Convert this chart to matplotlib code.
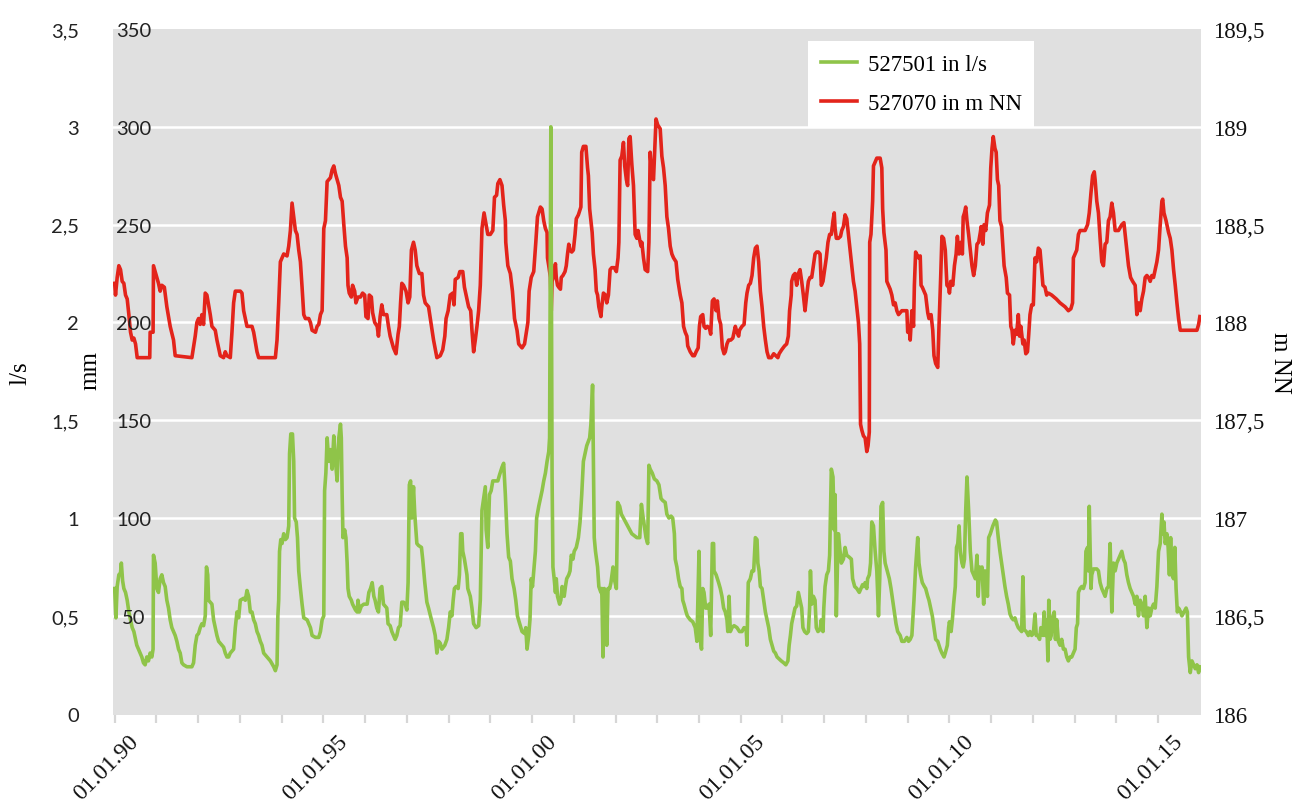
import matplotlib.pyplot as plt
from matplotlib.transforms import ScaledTranslation

# Pegel 527070 (m NN), Zeit in Dezimaljahren
red_pts = [
    (1990.00, 188.20), (1990.02, 188.14), (1990.06, 188.23), (1990.10, 188.29), (1990.14, 188.27),
    (1990.18, 188.21), (1990.22, 188.20), (1990.26, 188.14), (1990.30, 188.12), (1990.34, 188.04),
    (1990.38, 187.95), (1990.42, 187.91), (1990.46, 187.92), (1990.50, 187.89), (1990.54, 187.82),
    (1990.84, 187.82), (1990.85, 187.95), (1990.92, 187.95), (1990.93, 188.29), (1991.01, 188.23),
    (1991.05, 188.20), (1991.09, 188.16), (1991.13, 188.19), (1991.19, 188.18), (1991.25, 188.08),
    (1991.33, 187.98), (1991.41, 187.91), (1991.45, 187.83), (1991.85, 187.82), (1991.93, 187.93),
    (1991.97, 188.00), (1992.01, 188.02), (1992.05, 187.99), (1992.09, 188.04), (1992.13, 187.99),
    (1992.17, 188.15), (1992.21, 188.14), (1992.29, 188.04), (1992.33, 187.98), (1992.41, 187.96),
    (1992.45, 187.91), (1992.53, 187.83), (1992.61, 187.82), (1992.65, 187.85), (1992.69, 187.83),
    (1992.77, 187.82), (1992.81, 187.95), (1992.85, 188.10), (1992.89, 188.16), (1992.97, 188.16),
    (1993.01, 188.16), (1993.05, 188.15), (1993.09, 188.06), (1993.17, 187.98), (1993.29, 187.98),
    (1993.33, 187.95), (1993.41, 187.85), (1993.45, 187.82), (1993.85, 187.82), (1993.89, 187.91),
    (1993.93, 188.10), (1993.97, 188.31), (1994.05, 188.35), (1994.13, 188.34), (1994.17, 188.39),
    (1994.21, 188.47), (1994.25, 188.61), (1994.29, 188.54), (1994.33, 188.47), (1994.37, 188.45),
    (1994.41, 188.37), (1994.45, 188.31), (1994.49, 188.18), (1994.53, 188.04), (1994.57, 188.02),
    (1994.65, 188.02), (1994.69, 188.00), (1994.73, 187.96), (1994.81, 187.95), (1994.85, 187.98),
    (1994.89, 187.99), (1994.93, 188.04), (1994.97, 188.06), (1995.01, 188.48), (1995.05, 188.52),
    (1995.09, 188.72), (1995.13, 188.73), (1995.17, 188.74), (1995.21, 188.78), (1995.25, 188.80),
    (1995.29, 188.76), (1995.33, 188.73), (1995.37, 188.70), (1995.41, 188.64), (1995.45, 188.62),
    (1995.49, 188.50), (1995.53, 188.39), (1995.57, 188.33), (1995.59, 188.19), (1995.62, 188.15),
    (1995.67, 188.13), (1995.70, 188.19), (1995.75, 188.16), (1995.78, 188.10), (1995.83, 188.13),
    (1995.89, 188.13), (1995.94, 188.15), (1995.99, 188.14), (1996.02, 188.03), (1996.07, 188.02),
    (1996.10, 188.14), (1996.15, 188.13), (1996.18, 188.05), (1996.23, 188.00), (1996.29, 187.98),
    (1996.32, 187.93), (1996.36, 188.03), (1996.40, 188.09), (1996.44, 188.04), (1996.52, 188.04),
    (1996.56, 187.98), (1996.60, 187.93), (1996.68, 187.87), (1996.74, 187.84), (1996.79, 187.94),
    (1996.82, 187.98), (1996.85, 188.10), (1996.88, 188.20), (1996.92, 188.19), (1996.98, 188.16),
    (1997.03, 188.10), (1997.07, 188.13), (1997.11, 188.37), (1997.16, 188.41), (1997.20, 188.37),
    (1997.24, 188.29), (1997.30, 188.25), (1997.36, 188.25), (1997.40, 188.14), (1997.44, 188.10),
    (1997.52, 188.08), (1997.59, 187.98), (1997.64, 187.91), (1997.72, 187.82), (1997.80, 187.83),
    (1997.86, 187.86), (1997.91, 187.93), (1997.94, 188.02), (1997.99, 188.06), (1998.04, 188.14),
    (1998.10, 188.15), (1998.13, 188.09), (1998.16, 188.22), (1998.23, 188.23), (1998.27, 188.26),
    (1998.34, 188.26), (1998.38, 188.18), (1998.43, 188.13), (1998.48, 188.08), (1998.53, 188.06),
    (1998.56, 187.96), (1998.60, 187.85), (1998.64, 187.91), (1998.68, 187.98), (1998.72, 188.06),
    (1998.76, 188.19), (1998.80, 188.48), (1998.85, 188.56), (1998.90, 188.50), (1998.94, 188.45),
    (1999.00, 188.45), (1999.06, 188.47), (1999.10, 188.64), (1999.15, 188.65), (1999.18, 188.71),
    (1999.23, 188.73), (1999.28, 188.70), (1999.32, 188.60), (1999.36, 188.52), (1999.37, 188.41),
    (1999.42, 188.29), (1999.48, 188.25), (1999.53, 188.16), (1999.58, 188.02), (1999.64, 187.96),
    (1999.68, 187.89), (1999.76, 187.87), (1999.82, 187.89), (1999.85, 187.93), (1999.90, 188.00),
    (1999.93, 188.16), (1999.98, 188.23), (2000.04, 188.26), (2000.09, 188.41), (2000.13, 188.54),
    (2000.20, 188.59), (2000.24, 188.58), (2000.28, 188.52), (2000.32, 188.48), (2000.36, 188.46),
    (2000.37, 188.33), (2000.40, 188.29), (2000.44, 188.23), (2000.46, 188.06), (2000.48, 188.21),
    (2000.52, 188.24), (2000.56, 188.30), (2000.58, 188.23), (2000.61, 188.19), (2000.64, 188.18),
    (2000.68, 188.17), (2000.70, 188.23), (2000.74, 188.24), (2000.79, 188.26), (2000.82, 188.29),
    (2000.85, 188.35), (2000.88, 188.40), (2000.91, 188.37), (2000.95, 188.36), (2000.99, 188.37),
    (2001.03, 188.45), (2001.06, 188.53), (2001.11, 188.55), (2001.17, 188.59), (2001.19, 188.87),
    (2001.23, 188.90), (2001.29, 188.90), (2001.33, 188.79), (2001.35, 188.75), (2001.38, 188.58),
    (2001.41, 188.52), (2001.44, 188.46), (2001.47, 188.35), (2001.51, 188.27), (2001.54, 188.16),
    (2001.57, 188.14), (2001.60, 188.08), (2001.65, 188.03), (2001.67, 188.08), (2001.71, 188.15),
    (2001.76, 188.14), (2001.79, 188.10), (2001.83, 188.14), (2001.87, 188.27), (2001.91, 188.28),
    (2001.97, 188.28), (2002.02, 188.26), (2002.06, 188.33), (2002.08, 188.41), (2002.11, 188.83),
    (2002.15, 188.85), (2002.19, 188.92), (2002.22, 188.80), (2002.26, 188.73), (2002.29, 188.70),
    (2002.32, 188.94), (2002.35, 188.95), (2002.39, 188.81), (2002.43, 188.70), (2002.47, 188.45),
    (2002.51, 188.43), (2002.54, 188.47), (2002.58, 188.42), (2002.61, 188.39), (2002.63, 188.41),
    (2002.67, 188.33), (2002.71, 188.27), (2002.77, 188.26), (2002.80, 188.41), (2002.83, 188.87),
    (2002.87, 188.75), (2002.91, 188.73), (2002.94, 188.89), (2002.97, 189.04), (2003.01, 189.01),
    (2003.04, 189.00), (2003.07, 188.99), (2003.11, 188.85), (2003.15, 188.79), (2003.19, 188.70),
    (2003.23, 188.54), (2003.27, 188.48), (2003.31, 188.39), (2003.35, 188.35), (2003.39, 188.33),
    (2003.45, 188.31), (2003.49, 188.22), (2003.52, 188.18), (2003.55, 188.14), (2003.59, 188.10),
    (2003.63, 187.98), (2003.67, 187.95), (2003.71, 187.93), (2003.73, 187.88), (2003.79, 187.85),
    (2003.85, 187.83), (2003.89, 187.83), (2003.93, 187.85), (2003.98, 187.87), (2004.01, 187.98),
    (2004.04, 188.03), (2004.09, 188.04), (2004.12, 187.98), (2004.16, 187.97), (2004.20, 187.98),
    (2004.25, 187.97), (2004.28, 187.94), (2004.32, 188.11), (2004.36, 188.12), (2004.41, 188.06),
    (2004.44, 188.11), (2004.48, 188.02), (2004.52, 187.99), (2004.56, 187.87), (2004.60, 187.84),
    (2004.63, 187.85), (2004.67, 187.89), (2004.71, 187.91), (2004.76, 187.91), (2004.81, 187.92),
    (2004.87, 187.98), (2004.91, 187.95), (2004.95, 187.93), (2004.97, 187.96), (2005.03, 187.98),
    (2005.08, 187.99), (2005.12, 188.10), (2005.15, 188.15), (2005.19, 188.19), (2005.23, 188.20),
    (2005.27, 188.24), (2005.31, 188.33), (2005.35, 188.38), (2005.39, 188.39), (2005.43, 188.31),
    (2005.47, 188.16), (2005.51, 188.08), (2005.55, 187.98), (2005.59, 187.91), (2005.63, 187.85),
    (2005.67, 187.82), (2005.73, 187.82), (2005.79, 187.84), (2005.84, 187.83), (2005.89, 187.82),
    (2005.92, 187.84), (2005.98, 187.86), (2006.05, 187.88), (2006.10, 187.89), (2006.14, 187.93),
    (2006.17, 188.06), (2006.21, 188.14), (2006.22, 188.21), (2006.26, 188.24), (2006.30, 188.25),
    (2006.34, 188.19), (2006.38, 188.25), (2006.42, 188.27), (2006.46, 188.21), (2006.50, 188.14),
    (2006.54, 188.06), (2006.58, 188.14), (2006.62, 188.21), (2006.66, 188.23), (2006.70, 188.23),
    (2006.74, 188.29), (2006.78, 188.35), (2006.82, 188.36), (2006.86, 188.36), (2006.90, 188.35),
    (2006.93, 188.19), (2006.97, 188.21), (2007.01, 188.27), (2007.05, 188.33), (2007.09, 188.41),
    (2007.13, 188.45), (2007.17, 188.45), (2007.21, 188.52), (2007.24, 188.56), (2007.26, 188.48),
    (2007.29, 188.43), (2007.34, 188.43), (2007.39, 188.44), (2007.42, 188.47), (2007.46, 188.49),
    (2007.50, 188.55), (2007.54, 188.53), (2007.58, 188.45), (2007.62, 188.37), (2007.66, 188.29),
    (2007.70, 188.21), (2007.74, 188.16), (2007.78, 188.08), (2007.82, 188.00), (2007.85, 187.89),
    (2007.87, 187.48), (2007.90, 187.45), (2007.94, 187.42), (2007.98, 187.41), (2008.02, 187.34),
    (2008.05, 187.37), (2008.08, 187.44), (2008.09, 188.41), (2008.12, 188.45), (2008.16, 188.62),
    (2008.18, 188.80), (2008.22, 188.82), (2008.26, 188.84), (2008.34, 188.84), (2008.38, 188.79),
    (2008.40, 188.58), (2008.43, 188.46), (2008.48, 188.37), (2008.50, 188.21), (2008.54, 188.19),
    (2008.58, 188.17), (2008.62, 188.14), (2008.66, 188.09), (2008.70, 188.10), (2008.74, 188.06),
    (2008.78, 188.04), (2008.86, 188.06), (2008.98, 188.06), (2009.00, 187.95), (2009.03, 187.98),
    (2009.06, 187.91), (2009.10, 188.06), (2009.14, 187.98), (2009.16, 188.19), (2009.19, 188.36),
    (2009.26, 188.33), (2009.30, 188.34), (2009.32, 188.19), (2009.35, 188.18), (2009.39, 188.16),
    (2009.43, 188.14), (2009.48, 188.05), (2009.51, 188.02), (2009.56, 188.04), (2009.60, 187.96),
    (2009.63, 187.83), (2009.67, 187.79), (2009.72, 187.77), (2009.75, 187.98), (2009.79, 188.23),
    (2009.82, 188.44), (2009.86, 188.43), (2009.90, 188.37), (2009.94, 188.19), (2009.98, 188.18),
    (2010.00, 188.15), (2010.03, 188.21), (2010.08, 188.19), (2010.12, 188.29), (2010.16, 188.35),
    (2010.19, 188.44), (2010.23, 188.35), (2010.28, 188.41), (2010.31, 188.35), (2010.33, 188.54),
    (2010.36, 188.56), (2010.39, 188.59), (2010.42, 188.52), (2010.46, 188.45), (2010.50, 188.37),
    (2010.54, 188.29), (2010.58, 188.24), (2010.62, 188.29), (2010.66, 188.40), (2010.70, 188.41),
    (2010.74, 188.46), (2010.76, 188.49), (2010.80, 188.40), (2010.83, 188.50), (2010.87, 188.47),
    (2010.91, 188.56), (2010.96, 188.60), (2010.99, 188.79), (2011.02, 188.89), (2011.05, 188.95),
    (2011.09, 188.89), (2011.12, 188.87), (2011.15, 188.73), (2011.18, 188.70), (2011.21, 188.52),
    (2011.25, 188.49), (2011.28, 188.39), (2011.31, 188.29), (2011.36, 188.23), (2011.39, 188.15),
    (2011.44, 188.14), (2011.47, 187.98), (2011.50, 187.96), (2011.53, 187.89), (2011.57, 187.96),
    (2011.61, 187.94), (2011.65, 188.04), (2011.68, 187.93), (2011.71, 187.98), (2011.76, 187.89),
    (2011.79, 187.91), (2011.83, 187.84), (2011.87, 187.85), (2011.90, 187.94), (2011.93, 188.04),
    (2011.97, 188.09), (2012.01, 188.09), (2012.05, 188.33), (2012.09, 188.31), (2012.13, 188.38),
    (2012.17, 188.37), (2012.20, 188.29), (2012.24, 188.19), (2012.29, 188.18), (2012.33, 188.14),
    (2012.37, 188.15), (2012.45, 188.14), (2012.56, 188.12), (2012.65, 188.10), (2012.77, 188.08),
    (2012.85, 188.06), (2012.91, 188.07), (2012.95, 188.10), (2012.97, 188.33), (2013.01, 188.35),
    (2013.05, 188.37), (2013.09, 188.45), (2013.13, 188.47), (2013.25, 188.47), (2013.31, 188.50),
    (2013.35, 188.56), (2013.39, 188.66), (2013.43, 188.75), (2013.47, 188.77), (2013.49, 188.73),
    (2013.53, 188.62), (2013.57, 188.56), (2013.61, 188.43), (2013.65, 188.31), (2013.69, 188.29),
    (2013.73, 188.40), (2013.77, 188.41), (2013.81, 188.52), (2013.85, 188.54), (2013.89, 188.61),
    (2013.93, 188.56), (2013.97, 188.47), (2014.05, 188.47), (2014.13, 188.50), (2014.18, 188.51),
    (2014.21, 188.45), (2014.25, 188.37), (2014.29, 188.29), (2014.34, 188.23), (2014.39, 188.21),
    (2014.45, 188.19), (2014.49, 188.04), (2014.53, 188.10), (2014.57, 188.06), (2014.61, 188.12),
    (2014.65, 188.16), (2014.69, 188.23), (2014.73, 188.24), (2014.77, 188.23), (2014.81, 188.21),
    (2014.85, 188.24), (2014.89, 188.23), (2014.93, 188.27), (2014.97, 188.31), (2015.01, 188.37),
    (2015.05, 188.50), (2015.09, 188.62), (2015.11, 188.63), (2015.14, 188.56), (2015.19, 188.52),
    (2015.25, 188.46), (2015.29, 188.43), (2015.33, 188.37), (2015.37, 188.27), (2015.41, 188.19),
    (2015.45, 188.10), (2015.49, 188.02), (2015.53, 187.96), (2015.93, 187.96), (2015.97, 187.99),
    (2016.00, 188.03),
]

# Quelle 527501 (l/s)
green_pts = [
    (1990.00, 0.64), (1990.02, 0.54), (1990.03, 0.49), (1990.06, 0.65), (1990.10, 0.71),
    (1990.14, 0.72), (1990.16, 0.77), (1990.19, 0.68), (1990.22, 0.64), (1990.26, 0.62),
    (1990.30, 0.58), (1990.34, 0.52), (1990.38, 0.48), (1990.42, 0.44), (1990.46, 0.42),
    (1990.50, 0.38), (1990.53, 0.35), (1990.57, 0.33), (1990.61, 0.31), (1990.65, 0.29),
    (1990.69, 0.26), (1990.73, 0.25), (1990.77, 0.29), (1990.81, 0.27), (1990.85, 0.31),
    (1990.89, 0.29), (1990.92, 0.33), (1990.93, 0.81), (1990.97, 0.77), (1991.01, 0.64),
    (1991.05, 0.62), (1991.09, 0.69), (1991.13, 0.71), (1991.17, 0.67), (1991.21, 0.65),
    (1991.25, 0.58), (1991.29, 0.54), (1991.33, 0.48), (1991.37, 0.44), (1991.41, 0.42),
    (1991.45, 0.40), (1991.49, 0.37), (1991.53, 0.33), (1991.57, 0.31), (1991.61, 0.26),
    (1991.65, 0.25), (1991.73, 0.24), (1991.85, 0.24), (1991.89, 0.26), (1991.93, 0.35),
    (1991.97, 0.40), (1992.01, 0.41), (1992.05, 0.44), (1992.09, 0.46), (1992.13, 0.45),
    (1992.17, 0.50), (1992.20, 0.75), (1992.23, 0.71), (1992.25, 0.58), (1992.29, 0.57),
    (1992.33, 0.56), (1992.37, 0.48), (1992.41, 0.44), (1992.45, 0.40), (1992.49, 0.37),
    (1992.53, 0.36), (1992.61, 0.34), (1992.65, 0.31), (1992.69, 0.29), (1992.73, 0.29),
    (1992.77, 0.31), (1992.85, 0.33), (1992.89, 0.44), (1992.93, 0.52), (1992.97, 0.49),
    (1993.01, 0.58), (1993.09, 0.59), (1993.13, 0.58), (1993.17, 0.63), (1993.21, 0.60),
    (1993.25, 0.52), (1993.29, 0.52), (1993.33, 0.48), (1993.37, 0.46), (1993.41, 0.42),
    (1993.45, 0.40), (1993.49, 0.37), (1993.53, 0.35), (1993.57, 0.31), (1993.65, 0.29),
    (1993.73, 0.27), (1993.81, 0.24), (1993.85, 0.22), (1993.89, 0.25), (1993.91, 0.50),
    (1993.93, 0.58), (1993.95, 0.83), (1993.98, 0.89), (1994.01, 0.87), (1994.05, 0.92),
    (1994.09, 0.89), (1994.13, 0.90), (1994.17, 0.96), (1994.19, 1.33), (1994.22, 1.43),
    (1994.26, 1.43), (1994.29, 1.29), (1994.31, 1.00), (1994.35, 0.98), (1994.38, 0.90),
    (1994.41, 0.73), (1994.45, 0.64), (1994.49, 0.56), (1994.53, 0.49), (1994.61, 0.48),
    (1994.69, 0.44), (1994.73, 0.40), (1994.81, 0.39), (1994.89, 0.39), (1994.93, 0.42),
    (1994.97, 0.48), (1995.01, 0.50), (1995.03, 1.14), (1995.06, 1.23), (1995.09, 1.41),
    (1995.13, 1.29), (1995.17, 1.35), (1995.21, 1.25), (1995.25, 1.42), (1995.29, 1.29),
    (1995.33, 1.19), (1995.37, 1.41), (1995.41, 1.48), (1995.43, 1.41), (1995.45, 1.12),
    (1995.47, 0.90), (1995.51, 0.94), (1995.54, 0.90), (1995.57, 0.77), (1995.59, 0.64),
    (1995.62, 0.60), (1995.67, 0.58), (1995.70, 0.56), (1995.77, 0.53), (1995.81, 0.52),
    (1995.83, 0.58), (1995.86, 0.52), (1995.91, 0.55), (1995.97, 0.56), (1996.05, 0.56),
    (1996.09, 0.62), (1996.13, 0.64), (1996.17, 0.67), (1996.21, 0.60), (1996.24, 0.58),
    (1996.28, 0.54), (1996.32, 0.52), (1996.36, 0.64), (1996.40, 0.65), (1996.44, 0.56),
    (1996.48, 0.55), (1996.52, 0.54), (1996.55, 0.46), (1996.60, 0.45), (1996.64, 0.42),
    (1996.68, 0.40), (1996.72, 0.38), (1996.76, 0.40), (1996.80, 0.44), (1996.84, 0.45),
    (1996.88, 0.57), (1996.92, 0.57), (1996.96, 0.56), (1997.00, 0.53), (1997.03, 0.67),
    (1997.06, 1.17), (1997.09, 1.19), (1997.12, 1.00), (1997.16, 1.16), (1997.19, 1.02),
    (1997.24, 0.87), (1997.28, 0.86), (1997.35, 0.85), (1997.38, 0.79), (1997.43, 0.67),
    (1997.48, 0.57), (1997.52, 0.54), (1997.59, 0.48), (1997.64, 0.44), (1997.68, 0.40),
    (1997.72, 0.31), (1997.76, 0.37), (1997.80, 0.36), (1997.84, 0.33), (1997.91, 0.35),
    (1997.96, 0.38), (1998.00, 0.44), (1998.04, 0.52), (1998.08, 0.50), (1998.11, 0.58),
    (1998.14, 0.64), (1998.18, 0.65), (1998.23, 0.64), (1998.26, 0.71), (1998.29, 0.92),
    (1998.32, 0.92), (1998.34, 0.83), (1998.38, 0.79), (1998.44, 0.71), (1998.46, 0.64),
    (1998.52, 0.60), (1998.56, 0.54), (1998.60, 0.46), (1998.66, 0.44), (1998.72, 0.45),
    (1998.76, 0.58), (1998.80, 1.04), (1998.84, 1.10), (1998.88, 1.16), (1998.90, 0.94),
    (1998.94, 0.85), (1998.98, 1.12), (1999.02, 1.14), (1999.06, 1.19), (1999.12, 1.19),
    (1999.18, 1.19), (1999.22, 1.22), (1999.28, 1.26), (1999.32, 1.28), (1999.36, 1.12),
    (1999.40, 0.92), (1999.44, 0.80), (1999.48, 0.78), (1999.52, 0.69), (1999.57, 0.64),
    (1999.61, 0.58), (1999.65, 0.50), (1999.69, 0.47), (1999.76, 0.42), (1999.82, 0.41),
    (1999.85, 0.44), (1999.88, 0.33), (1999.92, 0.40), (1999.95, 0.48), (1999.98, 0.69),
    (2000.01, 0.65), (2000.05, 0.75), (2000.08, 0.83), (2000.11, 1.00), (2000.16, 1.06),
    (2000.24, 1.14), (2000.28, 1.19), (2000.32, 1.23), (2000.36, 1.29), (2000.40, 1.34),
    (2000.42, 1.41), (2000.45, 3.00), (2000.48, 1.21), (2000.50, 0.75), (2000.53, 0.69),
    (2000.56, 0.62), (2000.58, 0.69), (2000.61, 0.60), (2000.66, 0.56), (2000.69, 0.58),
    (2000.72, 0.65), (2000.77, 0.60), (2000.80, 0.65), (2000.83, 0.69), (2000.88, 0.71),
    (2000.91, 0.73), (2000.94, 0.81), (2000.98, 0.79), (2001.01, 0.83), (2001.06, 0.85),
    (2001.11, 0.90), (2001.15, 0.98), (2001.19, 1.12), (2001.23, 1.29), (2001.27, 1.33),
    (2001.31, 1.37), (2001.38, 1.41), (2001.41, 1.48), (2001.45, 1.68), (2001.47, 1.29),
    (2001.49, 0.90), (2001.52, 0.83), (2001.57, 0.75), (2001.60, 0.65), (2001.65, 0.62),
    (2001.67, 0.64), (2001.70, 0.29), (2001.73, 0.64), (2001.76, 0.62), (2001.79, 0.35),
    (2001.82, 0.64), (2001.86, 0.64), (2001.89, 0.67), (2001.94, 0.75), (2001.97, 0.69),
    (2002.02, 0.64), (2002.05, 1.08), (2002.10, 1.06), (2002.14, 1.02), (2002.19, 1.00),
    (2002.24, 0.98), (2002.29, 0.96), (2002.34, 0.94), (2002.39, 0.92), (2002.45, 0.91),
    (2002.51, 0.90), (2002.58, 0.90), (2002.62, 1.07), (2002.65, 1.02), (2002.69, 0.96),
    (2002.73, 0.90), (2002.77, 0.87), (2002.80, 1.27), (2002.83, 1.25), (2002.88, 1.23),
    (2002.93, 1.20), (2002.99, 1.19), (2003.04, 1.17), (2003.09, 1.10), (2003.13, 1.09),
    (2003.19, 1.08), (2003.23, 1.02), (2003.28, 1.00), (2003.33, 1.01), (2003.37, 1.00),
    (2003.41, 0.92), (2003.43, 0.79), (2003.47, 0.75), (2003.51, 0.69), (2003.55, 0.65),
    (2003.59, 0.64), (2003.61, 0.58), (2003.64, 0.56), (2003.69, 0.52), (2003.72, 0.50),
    (2003.79, 0.48), (2003.85, 0.47), (2003.91, 0.44), (2003.95, 0.37), (2004.00, 0.83),
    (2004.03, 0.38), (2004.06, 0.33), (2004.09, 0.64), (2004.12, 0.62), (2004.16, 0.54),
    (2004.20, 0.54), (2004.24, 0.56), (2004.28, 0.40), (2004.32, 0.87), (2004.35, 0.87),
    (2004.36, 0.73), (2004.41, 0.71), (2004.47, 0.67), (2004.51, 0.64), (2004.55, 0.60),
    (2004.59, 0.54), (2004.63, 0.52), (2004.67, 0.48), (2004.69, 0.42), (2004.72, 0.60),
    (2004.75, 0.42), (2004.79, 0.44), (2004.84, 0.45), (2004.91, 0.44), (2004.97, 0.42),
    (2005.03, 0.42), (2005.08, 0.44), (2005.13, 0.43), (2005.15, 0.35), (2005.18, 0.67),
    (2005.23, 0.69), (2005.27, 0.73), (2005.31, 0.73), (2005.35, 0.90), (2005.39, 0.89),
    (2005.41, 0.77), (2005.44, 0.73), (2005.47, 0.65), (2005.51, 0.64), (2005.55, 0.58),
    (2005.59, 0.52), (2005.63, 0.48), (2005.67, 0.44), (2005.71, 0.38), (2005.75, 0.35),
    (2005.79, 0.32), (2005.83, 0.31), (2005.87, 0.29), (2005.92, 0.28), (2005.97, 0.27),
    (2006.03, 0.26), (2006.08, 0.25), (2006.13, 0.27), (2006.16, 0.35), (2006.19, 0.40),
    (2006.22, 0.46), (2006.26, 0.50), (2006.30, 0.54), (2006.34, 0.55), (2006.38, 0.62),
    (2006.42, 0.58), (2006.46, 0.54), (2006.49, 0.44), (2006.53, 0.42), (2006.58, 0.41),
    (2006.62, 0.42), (2006.65, 0.54), (2006.67, 0.73), (2006.70, 0.56), (2006.74, 0.60),
    (2006.78, 0.58), (2006.81, 0.44), (2006.85, 0.42), (2006.90, 0.43), (2006.93, 0.48),
    (2006.97, 0.42), (2006.99, 0.54), (2007.02, 0.65), (2007.06, 0.71), (2007.10, 0.73),
    (2007.13, 0.81), (2007.17, 1.25), (2007.21, 1.21), (2007.24, 0.94), (2007.26, 1.12),
    (2007.29, 0.50), (2007.32, 0.79), (2007.34, 0.92), (2007.38, 0.83), (2007.41, 0.77),
    (2007.46, 0.79), (2007.50, 0.85), (2007.54, 0.81), (2007.60, 0.80), (2007.65, 0.79),
    (2007.68, 0.69), (2007.73, 0.65), (2007.78, 0.64), (2007.84, 0.62), (2007.88, 0.64),
    (2007.92, 0.66), (2007.95, 0.65), (2007.98, 0.67), (2008.02, 0.64), (2008.04, 0.69),
    (2008.08, 0.71), (2008.11, 0.77), (2008.14, 0.98), (2008.18, 0.96), (2008.22, 0.83),
    (2008.26, 0.73), (2008.30, 0.50), (2008.33, 0.69), (2008.36, 1.06), (2008.40, 1.08),
    (2008.43, 0.83), (2008.46, 0.77), (2008.51, 0.73), (2008.56, 0.69), (2008.60, 0.64),
    (2008.64, 0.58), (2008.68, 0.52), (2008.72, 0.46), (2008.76, 0.42), (2008.82, 0.40),
    (2008.86, 0.37), (2008.92, 0.37), (2008.98, 0.39), (2009.02, 0.37), (2009.06, 0.38),
    (2009.10, 0.40), (2009.15, 0.58), (2009.19, 0.75), (2009.24, 0.90), (2009.27, 0.77),
    (2009.31, 0.71), (2009.35, 0.67), (2009.40, 0.65), (2009.43, 0.64), (2009.48, 0.60),
    (2009.51, 0.58), (2009.55, 0.54), (2009.59, 0.50), (2009.63, 0.44), (2009.67, 0.38),
    (2009.72, 0.37), (2009.78, 0.33), (2009.82, 0.31), (2009.87, 0.29), (2009.90, 0.31),
    (2009.95, 0.35), (2009.98, 0.44), (2010.00, 0.47), (2010.04, 0.42), (2010.07, 0.48),
    (2010.10, 0.56), (2010.14, 0.65), (2010.17, 0.85), (2010.20, 0.87), (2010.23, 0.96),
    (2010.26, 0.83), (2010.30, 0.77), (2010.33, 0.75), (2010.36, 0.79), (2010.39, 1.04),
    (2010.42, 1.21), (2010.46, 1.04), (2010.50, 0.83), (2010.54, 0.73), (2010.58, 0.71),
    (2010.62, 0.69), (2010.66, 0.81), (2010.69, 0.60), (2010.72, 0.75), (2010.75, 0.73),
    (2010.78, 0.75), (2010.82, 0.56), (2010.85, 0.73), (2010.88, 0.69), (2010.91, 0.60),
    (2010.94, 0.90), (2010.98, 0.92), (2011.04, 0.96), (2011.10, 0.99), (2011.13, 0.98),
    (2011.17, 0.90), (2011.21, 0.83), (2011.25, 0.77), (2011.29, 0.71), (2011.33, 0.65),
    (2011.37, 0.60), (2011.41, 0.56), (2011.45, 0.51), (2011.49, 0.49), (2011.53, 0.48),
    (2011.57, 0.49), (2011.61, 0.46), (2011.65, 0.44), (2011.69, 0.43), (2011.73, 0.42),
    (2011.76, 0.70), (2011.79, 0.43), (2011.84, 0.42), (2011.89, 0.40), (2011.93, 0.42),
    (2011.97, 0.40), (2012.01, 0.41), (2012.05, 0.51), (2012.08, 0.40), (2012.12, 0.40),
    (2012.16, 0.38), (2012.19, 0.44), (2012.24, 0.40), (2012.27, 0.52), (2012.30, 0.40),
    (2012.33, 0.48), (2012.36, 0.27), (2012.38, 0.58), (2012.41, 0.38), (2012.44, 0.40),
    (2012.48, 0.50), (2012.51, 0.52), (2012.54, 0.38), (2012.57, 0.48), (2012.61, 0.37),
    (2012.65, 0.35), (2012.69, 0.38), (2012.73, 0.33), (2012.77, 0.33), (2012.81, 0.29),
    (2012.85, 0.27), (2012.89, 0.29), (2012.93, 0.29), (2012.97, 0.31), (2013.01, 0.33),
    (2013.04, 0.44), (2013.07, 0.46), (2013.09, 0.62), (2013.13, 0.64), (2013.17, 0.65),
    (2013.21, 0.64), (2013.25, 0.67), (2013.27, 0.83), (2013.31, 0.85), (2013.33, 0.73),
    (2013.35, 1.06), (2013.39, 0.64), (2013.41, 0.71), (2013.45, 0.74), (2013.53, 0.74),
    (2013.57, 0.73), (2013.61, 0.67), (2013.65, 0.64), (2013.69, 0.62), (2013.73, 0.60),
    (2013.77, 0.64), (2013.81, 0.65), (2013.85, 0.87), (2013.89, 0.52), (2013.93, 0.77),
    (2013.97, 0.73), (2014.01, 0.77), (2014.05, 0.79), (2014.09, 0.81), (2014.13, 0.83),
    (2014.17, 0.79), (2014.21, 0.77), (2014.25, 0.71), (2014.29, 0.67), (2014.33, 0.64),
    (2014.37, 0.62), (2014.41, 0.60), (2014.45, 0.56), (2014.49, 0.60), (2014.53, 0.50),
    (2014.57, 0.58), (2014.61, 0.56), (2014.65, 0.50), (2014.69, 0.60), (2014.73, 0.44),
    (2014.77, 0.54), (2014.81, 0.50), (2014.85, 0.54), (2014.89, 0.56), (2014.93, 0.54),
    (2014.97, 0.65), (2015.01, 0.83), (2015.05, 0.87), (2015.09, 1.02), (2015.11, 0.92),
    (2015.14, 0.98), (2015.17, 0.87), (2015.21, 0.92), (2015.24, 0.85), (2015.27, 0.71),
    (2015.30, 0.90), (2015.33, 0.71), (2015.37, 0.69), (2015.40, 0.85), (2015.43, 0.64),
    (2015.46, 0.52), (2015.49, 0.54), (2015.54, 0.52), (2015.57, 0.50), (2015.62, 0.52),
    (2015.67, 0.54), (2015.70, 0.52), (2015.73, 0.29), (2015.77, 0.21), (2015.81, 0.27),
    (2015.85, 0.25), (2015.89, 0.23), (2015.93, 0.25), (2015.97, 0.21), (2016.00, 0.24),
]

red_years, red_level = zip(*red_pts)
green_years, green_flow = zip(*green_pts)

flow_ticks = [0, 0.5, 1, 1.5, 2, 2.5, 3, 3.5]
mm_ticks = [50, 100, 150, 200, 250, 300, 350]
level_ticks = [186, 186.5, 187, 187.5, 188, 188.5, 189, 189.5]
level_grid = [186.5, 187, 187.5, 188, 188.5, 189]
tick_years = list(range(1990, 2016))
label_years = [1990, 1995, 2000, 2005, 2010, 2015]

GREEN = '#8fc449'
RED = '#e3241b'
SERIF = 'Liberation Serif'
SANS = 'Lato'


def komma(v):
    return f"{v:g}".replace('.', ',')


fig = plt.figure(figsize=(12.94, 8.03), dpi=100)
ax = fig.add_axes([113 / 1294, 1 - 716 / 803, 1087.7 / 1294, 686 / 803])
ax_r = ax.twinx()
ax_mm = ax.twinx()

# rechte Achse liegt unten und traegt Hintergrund + Gitter, gruene Linie oben drueber
ax_r.set_zorder(1)
ax.set_zorder(2)
ax_mm.set_zorder(3)
ax.patch.set_visible(False)
ax_r.patch.set_visible(True)
ax_r.patch.set_facecolor('#e0e0e0')

pad_bottom = 0.0066
ax.set_xlim(1989.96, 2016.02)
ax.set_ylim(-pad_bottom, 3.5)
ax_r.set_ylim(186 - pad_bottom, 189.5)
ax_mm.set_ylim(-pad_bottom * 100, 350)

for a in (ax, ax_r, ax_mm):
    for s in a.spines.values():
        s.set_visible(False)

for g in level_grid:
    ax_r.axhline(g, color='white', lw=1.8, zorder=1)

red_line, = ax_r.plot(red_years, red_level, color=RED, lw=2.6, zorder=3,
                      solid_joinstyle='round', label='527070 in m NN')
green_line, = ax.plot(green_years, green_flow, color=GREEN, lw=2.6, zorder=3,
                      solid_joinstyle='round', label='527501 in l/s')

# l/s links aussen
ax.set_yticks(flow_ticks, [komma(v) for v in flow_ticks])
ax.tick_params(axis='y', length=0, pad=24.5, labelsize=14.5, labelcolor='#222222',
               labelfontfamily=SANS)
ax.set_ylabel('l/s', fontsize=18, family=SERIF, va='center', ha='center')
ax.yaxis.set_label_coords(-0.0855, 0.5)

# mm innen im Diagramm
ax_mm.yaxis.tick_left()
ax_mm.yaxis.set_label_position('left')
ax_mm.set_yticks(mm_ticks, [str(v) for v in mm_ticks])
ax_mm.tick_params(axis='y', length=0, pad=-15.1, labelsize=14.5, labelcolor='#222222',
                  labelfontfamily=SANS)
for lbl in ax_mm.get_yticklabels():
    lbl.set_horizontalalignment('center')
ax_mm.set_ylabel('mm', fontsize=18, family=SERIF, va='center', ha='center')
ax_mm.yaxis.set_label_coords(-0.0205, 0.503)

# m NN rechts
ax_r.set_yticks(level_ticks, [komma(v) for v in level_ticks])
ax_r.tick_params(axis='y', length=0, pad=8.6, labelsize=16.5, labelcolor='#111111',
                 labelfontfamily=SERIF)
ax_r.set_ylabel('m NN', fontsize=18, family=SERIF, rotation=270, va='center', ha='center')
ax_r.yaxis.set_label_coords(1.073, 0.515)

# Jahresstriche, beschriftet alle 5 Jahre
ax.set_xticks(tick_years, [''] * len(tick_years))
ax.tick_params(axis='x', length=6, width=1.6, color='#d6d6d6')
shift = ScaledTranslation(0.21, -0.23, fig.dpi_scale_trans)
for yr in label_years:
    ax.text(yr, 0, '01.01.' + str(yr)[2:], transform=ax.get_xaxis_transform() + shift,
            rotation=45, rotation_mode='anchor', ha='right', va='center',
            fontsize=17, family=SERIF, color='#111111')

leg = ax.legend(handles=[green_line, red_line], loc='upper left',
                bbox_to_anchor=(0.639, 0.9825), borderaxespad=0,
                frameon=True, fancybox=False, facecolor='white', edgecolor='none',
                framealpha=1, handlelength=1.6, handletextpad=0.45, labelspacing=0.8,
                borderpad=0.55, prop={'family': SERIF, 'size': 16.5})

fig.savefig('out.png', dpi=100)
